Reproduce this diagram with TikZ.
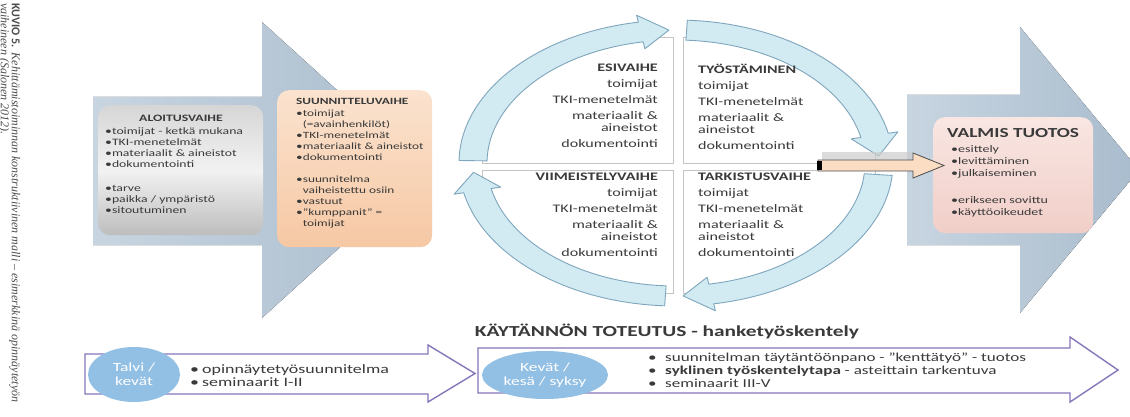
\documentclass[tikz,border=0pt]{standalone}
\usepackage{fontspec}
\setmainfont{Carlito}[FakeStretch=1.4]
\newfontfamily\capserif{Liberation Serif}
\newfontfamily\capsans{Carlito}
\usetikzlibrary{shapes.geometric}

\definecolor{bgL}{HTML}{C8D5E1}
\definecolor{bgR}{HTML}{A9BCCD}
\definecolor{txt}{HTML}{3A3A3A}
\definecolor{grayT}{HTML}{D6D6D6}
\definecolor{grayM}{HTML}{F2F2F2}
\definecolor{grayB}{HTML}{BDBDBD}
\definecolor{peachT}{HTML}{FBE3CF}
\definecolor{peachB}{HTML}{F6C8A4}
\definecolor{pinkT}{HTML}{F9E6E2}
\definecolor{pinkB}{HTML}{F1CEC8}
\definecolor{ringfill}{HTML}{D2EAF2}
\definecolor{ringedge}{HTML}{7EA6BD}
\definecolor{arrowpeach}{HTML}{FBDDC3}
\definecolor{purp}{HTML}{8676BA}
\definecolor{ellblue}{HTML}{92BFE4}
\definecolor{quadline}{HTML}{C4C4C4}

\tikzset{
  bigarrow/.style={left color=bgL, right color=bgR, draw=none},
  phasebox/.style={rounded corners=12pt, draw=none, anchor=north west, inner sep=0pt},
  itemtxt/.style={text=txt, align=left, inner sep=0pt, anchor=north west},
  ringstyle/.style={fill=ringfill, draw=ringedge, line width=0.9pt, line join=round},
  quadtxt/.style={text=txt, inner sep=0pt, font=\fontsize{11.5}{12}\selectfont},
  season/.style={ellipse, fill=ellblue, draw=none, text=white, align=center, inner sep=0pt, font=\fontsize{12.5}{14}\selectfont},
  timeline/.style={draw=purp, line width=1.4pt, fill=white, line join=miter},
  captxt/.style={rotate=-90, anchor=base west, inner sep=0pt, text=black!70, font=\fontsize{12}{13}\selectfont}
}

\newcommand{\ringarrow}[4]{%
  \filldraw[ringstyle] ({155*cos(#2)},{143*sin(#2)}) coordinate (#1-s)
    arc[start angle=#2, end angle=#3, x radius=155, y radius=143]
    -- ({162*cos(#3)},{150*sin(#3)})
    -- ({145*cos(#4)},{133*sin(#4)}) coordinate (#1-t)
    -- ({128*cos(#3)},{116*sin(#3)})
    -- ({135*cos(#3)},{123*sin(#3)})
    arc[start angle=#3, end angle=#2, x radius=135, y radius=123]
    -- cycle;}

\begin{document}
\begin{tikzpicture}[x=1pt,y=1pt]
\useasboundingbox (0,0) rectangle (1130,-417);
\fill[white] (0,0) rectangle (1130,-417);

% big background arrows
\fill[bigarrow] (93,-97) -- (262,-97) -- (262,-22) -- (425,-170) -- (262,-318) -- (262,-245) -- (93,-245) -- cycle;
\fill[bigarrow] (907,-95) -- (1020,-95) -- (1020,-27) -- (1139,-170) -- (1020,-313) -- (1020,-245) -- (907,-245) -- cycle;

% ALOITUSVAIHE
\node[phasebox, top color=grayT, bottom color=grayB, middle color=grayM, minimum width=165pt, minimum height=130pt] (alo) at (98,-105) {};
\node[itemtxt, font=\fontsize{9.8}{11}\selectfont\bfseries, anchor=center] (alotitle) at (181,-118) {ALOITUSVAIHE};
\node[itemtxt, font=\fontsize{9.8}{11}\selectfont] (aloitems) at (105,-127) {•toimijat - ketkä mukana\\ •TKI-menetelmät\\ •materiaalit \& aineistot\\ •dokumentointi\\[13pt] •tarve\\ •paikka / ympäristö\\ •sitoutuminen};

% SUUNNITTELUVAIHE
\node[phasebox, top color=peachT, bottom color=peachB, minimum width=155pt, minimum height=157pt] (suu) at (277,-90) {};
\node[itemtxt, font=\fontsize{9.5}{11.2}\selectfont] (suuitems) at (296,-98.5) {\textbf{SUUNNITTELUVAIHE}\\ •toimijat\\ \hphantom{•}(=avainhenkilöt)\\ •TKI-menetelmät\\ •materiaalit \& aineistot\\ •dokumentointi\\[10pt] •suunnitelma\\ \hphantom{•}vaiheistettu osiin\\ •vastuut\\ •"kumppanit" =\\ \hphantom{•}toimijat};

% quadrant lines
\begin{scope}
  \clip (676,-163) ellipse [x radius=203, y radius=133];
  \draw[quadline] (482,-37) rectangle (673,-163);
  \draw[quadline] (683,-37) rectangle (875,-163);
  \draw[quadline] (482,-170) rectangle (673,-293);
  \draw[quadline] (683,-170) rectangle (875,-293);
\end{scope}

% ring arrows
\begin{scope}[shift={(676,-163)}, xscale=1.4]
  \ringarrow{ra1}{179}{100}{92}
  \ringarrow{ra2}{87}{12}{3}
  \ringarrow{ra3}{-5}{-80}{-88}
  \ringarrow{ra4}{-93}{-168}{-176}
\end{scope}

% quadrant texts
\node[quadtxt, anchor=north east, align=right] (esi) at (658,-63.5) {\textbf{ESIVAIHE}\\[4pt] toimijat\\[4pt] TKI-menetelmät\\[4pt] materiaalit \&\\ aineistot\\[4pt] dokumentointi};
\node[quadtxt, anchor=north west, align=left] (tyo) at (698,-63.5) {\textbf{TYÖSTÄMINEN}\\[4pt] toimijat\\[4pt] TKI-menetelmät\\[4pt] materiaalit \&\\ aineistot\\[4pt] dokumentointi};
\node[quadtxt, anchor=north east, align=right] (vii) at (658,-172.5) {\textbf{VIIMEISTELYVAIHE}\\[4pt] toimijat\\[4pt] TKI-menetelmät\\[4pt] materiaalit \&\\ aineistot\\[4pt] dokumentointi};
\node[quadtxt, anchor=north west, align=left] (tar) at (698,-172.5) {\textbf{TARKISTUSVAIHE}\\[4pt] toimijat\\[4pt] TKI-menetelmät\\[4pt] materiaalit \&\\ aineistot\\[4pt] dokumentointi};

% VALMIS TUOTOS
\node[phasebox, top color=pinkT, bottom color=pinkB, minimum width=160pt, minimum height=116pt] (val) at (933,-117) {};
\node[itemtxt, font=\fontsize{13.8}{14}\selectfont\bfseries] (valtitle) at (947,-128) {VALMIS TUOTOS};
\node[itemtxt, font=\fontsize{10}{12}\selectfont] (valitems) at (951,-145) {•esittely\\ •levittäminen\\ •julkaiseminen\\[15pt] •erikseen sovittu\\ •käyttöoikeudet};

% peach arrow
\fill[black!20, opacity=0.7] (822,-152) rectangle (912,-160);
\coordinate (pa-s) at (818,-165.5);
\coordinate (pa-t) at (944,-165.5);
\filldraw[fill=arrowpeach, draw=black!70, line width=0.8pt] (818,-160) -- (913,-160) -- (913,-153) -- (pa-t) -- (913,-178) -- (913,-171) -- (818,-171) -- cycle;
\fill[black] (817,-161) rectangle (822,-170);

% bottom timeline
\node[font=\fontsize{15.3}{16}\selectfont\bfseries, text=txt, inner sep=0pt] (kt) at (667,-331) {KÄYTÄNNÖN TOTEUTUS - hanketyöskentely};

\filldraw[timeline] (85,-354) -- (428,-354) -- (428,-345) -- (475,-373.5) -- (428,-402) -- (428,-394) -- (85,-394) -- cycle;
\node[season, minimum width=92pt, minimum height=55pt] (talvi) at (134,-374.5) {Talvi /\\kevät};
\node[itemtxt, font=\fontsize{12.8}{13}\selectfont, anchor=west] (talviitems) at (190,-375.5) {\makebox[12pt][l]{•}opinnäytetyösuunnitelma\\ \makebox[12pt][l]{•}seminaarit I-II};

\filldraw[timeline] (478,-348) -- (1070,-348) -- (1070,-337) -- (1118,-370) -- (1070,-402) -- (1070,-393) -- (478,-393) -- cycle;
\node[season, minimum width=126pt, minimum height=48pt] (kesa) at (545,-375) {Kevät /\\kesä / syksy};
\node[itemtxt, anchor=west, font=\fontsize{12.2}{13}\selectfont] (kesaitems) at (648,-370) {\makebox[17pt][l]{•}suunnitelman täytäntöönpano - "kenttätyö" - tuotos\\ \makebox[17pt][l]{•}\textbf{syklinen työskentelytapa} - asteittain tarkentuva\\ \makebox[17pt][l]{•}seminaarit III-V};

% caption
\node[captxt] (cap1) at (12,-3) {{\capsans\bfseries KUVIO 5.} {\capserif\itshape Kehittämistoiminnan konstruktiivinen malli – esimerkkinä opinnäytetyön}};
\node[captxt] (cap2) at (1,-3) {\capserif\itshape vaiheineen (Salonen 2012).};
\end{tikzpicture}
\end{document}
